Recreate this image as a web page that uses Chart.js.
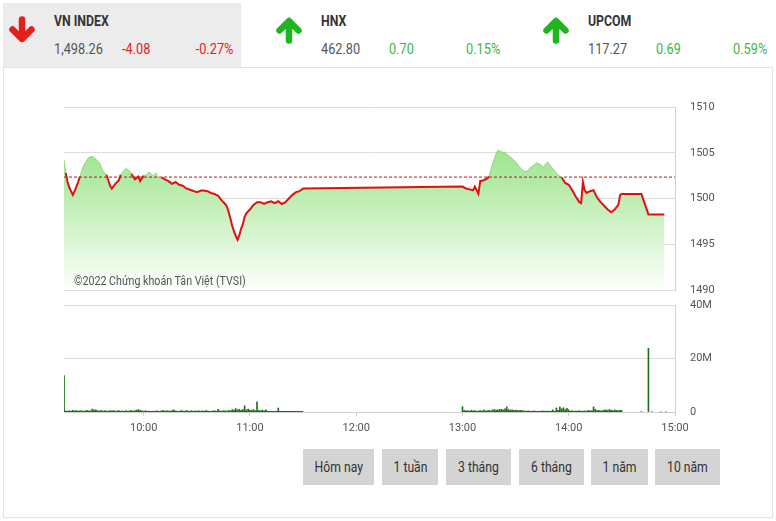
<!DOCTYPE html>
<html>
<head>
<meta charset="utf-8">
<script src="https://cdn.jsdelivr.net/npm/chart.js@4.4.1/dist/chart.umd.min.js"></script>
<style>
    html, body { margin: 0; padding: 0; background: #fff; }
    body { width: 776px; height: 521px; position: relative; overflow: hidden;
        font-family: Roboto, sans-serif; color: #444; }
    .abs { position: absolute; white-space: nowrap; }
    .tab-active { background: #ececec; }
    .panel { border: 1px solid #e3e3e3; box-sizing: border-box; }
    .name { font-size: 15px; font-weight: bold; color: #333; line-height: 18px; transform: scaleX(0.82); transform-origin: left; }
    .val { font-size: 15px; line-height: 18px; color: #555; transform: scaleX(0.85); transform-origin: left; }
    .val.right { transform-origin: right; }
    .down { color: #e3201c; }
    .up { color: #3cb83c; }
    .btn { background: #d4d4d4; color: #333; height: 36px; line-height: 36px; text-align: center; }
    .btn span { display: inline-block; font-size: 14px; transform: scaleX(0.87); }
    .watermark { font-size: 12px; color: #555; transform: scaleX(0.89); transform-origin: left; }
    canvas { position: absolute; left: 0; }
</style>
</head>
<body>
<div class="abs panel" style="left:3px;top:67px;width:770px;height:451px"></div>
<div class="abs tab-active" style="left:3px;top:3px;width:238px;height:64px"></div>

<div id="header"></div>

<canvas id="price-canvas" width="776" height="203" style="top:97px"></canvas>
<canvas id="volume-canvas" width="776" height="145" style="top:295px"></canvas>
<div class="abs watermark" style="left:74px;top:274px">©2022 Chứng khoán Tân Việt (TVSI)</div>

<div id="buttons"></div>

<script>
// index summary in header
const indexNames = ["VN INDEX", "HNX", "UPCOM"];
const indexValues = ["1,498.26", "462.80", "117.27"];
const indexChanges = ["-4.08", "0.70", "0.69"];
const indexPercents = ["-0.27%", "0.15%", "0.59%"];

const rangeButtons = ["Hôm nay", "1 tuần", "3 tháng", "6 tháng", "1 năm", "10 năm"];

// reference (previous close) for VN INDEX
const REF_PRICE = 1502.34;

// intraday VN INDEX
const priceTimes = [
    "9:15", "9:16", "9:17", "9:18", "9:20", "9:21", "9:23", "9:24", "9:26", "9:28",
    "9:29", "9:31", "9:33", "9:35", "9:37", "9:39", "9:40", "9:41", "9:42", "9:44",
    "9:46", "9:47", "9:49", "9:50", "9:52", "9:53", "9:55", "9:57", "9:58", "10:00",
    "10:02", "10:03", "10:05", "10:07", "10:08", "10:10", "10:12", "10:14", "10:16", "10:18",
    "10:20", "10:22", "10:24", "10:27", "10:30", "10:33", "10:36", "10:38", "10:40", "10:42",
    "10:44", "10:46", "10:47", "10:48", "10:49", "10:50", "10:51", "10:52", "10:53", "10:54",
    "10:55", "10:56", "10:57", "10:58", "11:00", "11:02", "11:04", "11:06", "11:08", "11:10",
    "11:12", "11:14", "11:16", "11:18", "11:20", "11:22", "11:24", "11:26", "11:28", "11:30",
    "13:00", "13:02", "13:04", "13:06", "13:07", "13:08", "13:09", "13:10", "13:12", "13:14",
    "13:15", "13:17", "13:19", "13:20", "13:22", "13:24", "13:26", "13:28", "13:30", "13:32",
    "13:34", "13:36", "13:38", "13:40", "13:42", "13:44", "13:46", "13:47", "13:48", "13:50",
    "13:52", "13:54", "13:56", "13:58", "14:00", "14:02", "14:04", "14:06", "14:07", "14:08",
    "14:09", "14:10", "14:12", "14:14", "14:16", "14:18", "14:20", "14:22", "14:24", "14:26",
    "14:28", "14:29", "14:30", "14:41", "14:45", "14:54"
];
const priceValues = [
    1504.2, 1502.8, 1501.8, 1501.2, 1500.4, 1500.8, 1501.8, 1502.4, 1503.6, 1504.2,
    1504.5, 1504.6, 1504.3, 1503.9, 1503.0, 1502.6, 1502.0, 1501.4, 1501.1, 1501.6,
    1502.0, 1502.6, 1503.1, 1503.3, 1503.0, 1502.7, 1502.1, 1502.4, 1501.9, 1502.5,
    1502.6, 1502.9, 1502.5, 1502.8, 1502.3, 1502.3, 1502.1, 1501.9, 1501.6, 1501.8,
    1501.5, 1501.4, 1501.1, 1500.9, 1500.7, 1500.9, 1500.8, 1500.6, 1500.5, 1500.3,
    1499.8, 1499.4, 1499.1, 1498.5, 1497.8, 1497.0, 1496.4, 1495.9, 1495.5, 1496.0,
    1496.7, 1497.2, 1498.0, 1498.4, 1498.8, 1499.3, 1499.6, 1499.6, 1499.4, 1499.6,
    1499.7, 1499.5, 1499.7, 1499.4, 1499.6, 1500.0, 1500.4, 1500.7, 1500.8, 1501.1,
    1501.3, 1501.1, 1501.0, 1500.9, 1501.3, 1500.9, 1500.5, 1501.9, 1502.0, 1502.2,
    1502.4, 1503.8, 1504.9, 1505.3, 1505.1, 1505.0, 1504.7, 1504.4, 1504.0, 1503.5,
    1503.1, 1502.9, 1503.3, 1503.6, 1503.9, 1503.7, 1503.4, 1503.8, 1504.0, 1503.5,
    1503.0, 1502.6, 1502.3, 1501.7, 1501.5, 1500.9, 1500.2, 1499.6, 1499.5, 1501.8,
    1500.9, 1500.6, 1500.8, 1500.9, 1500.1, 1499.6, 1499.2, 1498.8, 1498.5, 1498.8,
    1499.3, 1500.4, 1500.5, 1500.5, 1498.26, 1498.26
];

// matched volume per minute (millions), morning from 9:15, afternoon from 13:00
const volumeMorning = [
    13.6, 0.4, 0.3, 0.5, 0.3, 0.6, 0.4, 0.5, 0.3, 0.4,
    0.5, 0.3, 0.4, 0.6, 0.4, 0.5, 1.1, 0.7, 0.8, 0.5,
    0.4, 0.6, 0.3, 0.5, 0.4, 0.3, 0.5, 0.4, 0.6, 0.3,
    0.4, 0.5, 0.3, 0.4, 0.2, 0.5, 0.3, 0.4, 0.6, 0.3,
    0.5, 0.7, 0.9, 0.6, 0.4, 0.3, 0.5, 0.2, 0.3, 0,
    0.3, 0, 0.4, 0.3, 0, 0.4, 0.6, 0.3, 0.5, 0.4,
    0.3, 0.5, 0.8, 0.4, 0.3, 0, 0.5, 0.4, 0.3, 0.5,
    0.4, 0.3, 0.5, 0, 0.4, 0.3, 0.5, 0, 0.4, 0.3,
    0.5, 0.4, 0.3, 0, 0.4, 0.5, 0.3, 1.0, 0.4, 0.3,
    0.5, 0.4, 0.3, 0.6, 0.5, 0.9, 0.7, 1.3, 0.8, 1.0,
    0.6, 0.9, 2.3, 0.8, 1.1, 0.7, 0.6, 0.9, 0.5, 3.8,
    0.6, 0.5, 0.7, 0.4, 0.8, 0.3, 0, 0, 0, 0,
    0, 1.5, 0, 0, 0, 0, 0, 0, 0, 0,
    0, 0, 0, 0, 0, 0
];
const volumeAfternoon = [
    2.0, 0.6, 0.4, 0.5, 0.3, 0.6, 0.4, 0.5, 0, 0.4,
    0.5, 0.3, 0.8, 0.4, 0.5, 0.6, 0.4, 0.8, 0.9, 0.7,
    0.8, 0.9, 1.0, 0.8, 1.2, 1.9, 0.9, 0.7, 0.8, 0.6,
    0.7, 0.6, 0.5, 0.6, 0.5, 0.4, 0, 0.4, 0.3, 0,
    0.4, 0.3, 0, 0.3, 0, 0.4, 0.3, 0, 0.4, 0,
    0.3, 0.8, 0, 1.5, 0.6, 1.8, 1.2, 1.6, 0.9, 1.4,
    0.8, 0.3, 0.5, 0, 0.4, 0.3, 0.5, 0, 0.3, 0.4,
    0.3, 0.6, 0.4, 0.5, 1.9, 1.0, 0.5, 0.6, 0.4, 0.5,
    0.7, 0.8, 0.6, 0.9, 0.7, 0.5, 0.8, 0.6, 0.5, 0.7,
    0.5
];
const closingTimes = ["14:41", "14:45", "14:47", "14:52", "14:55"];
const closingVolumes = [0.2, 23.8, 0.2, 0.2, 0.2];

const xTickTimes = ["10:00", "11:00", "12:00", "13:00", "14:00", "15:00"];
const priceTicks = [1490, 1495, 1500, 1505, 1510];
const volumeTicks = [0, 20, 40];

const FONT = "Roboto, sans-serif";
const PLOT_LEFT = 64;
const PLOT_RIGHT = 675;
const DAY_START = toMinutes("9:15");
const DAY_END = toMinutes("15:00");

// minutes counted from 9:00
function toMinutes(t) {
    const [h, m] = t.split(":").map(Number);
    return (h - 9) * 60 + m;
}

function toLabel(minutes) {
    const h = Math.floor(minutes / 60) + 9;
    const m = minutes % 60;
    return h + ":" + String(m).padStart(2, "0");
}

function buildHeader() {
    const header = document.getElementById("header");
    indexNames.forEach((name, i) => {
        const left = 3 + i * 267;
        const isDown = indexChanges[i].startsWith("-");
        const cls = isDown ? "down" : "up";
        const color = isDown ? "#e3201c" : "#1fb51f";
        const arrow = isDown
            ? '<path d="M13 3 V22 M3.5 13 L13 22.5 L22.5 13" />'
            : '<path d="M13 24 V5 M3.5 14 L13 4.5 L22.5 14" />';
        header.insertAdjacentHTML("beforeend", `
            <svg class="abs" style="left:${left + 6}px;top:16px" width="26" height="28" viewBox="0 0 26 27">
                <g fill="none" stroke="${color}" stroke-width="6.5" stroke-linecap="round" stroke-linejoin="round">${arrow}</g>
            </svg>
            <div class="abs name" style="left:${left + 51}px;top:12px">${name}</div>
            <div class="abs val" style="left:${left + 51}px;top:40px">${indexValues[i]}</div>
            <div class="abs val ${cls}" style="left:${left + 119}px;top:40px">${indexChanges[i]}</div>
            <div class="abs val right ${cls}" style="right:${776 - (left + 230)}px;top:40px">${indexPercents[i]}</div>
        `);
    });
}

function buildButtons() {
    // left edge and width of each range button
    const lefts = [303, 382, 446, 519, 591, 655];
    const widths = [71, 56, 65, 65, 57, 65];
    const box = document.getElementById("buttons");
    rangeButtons.forEach((label, i) => {
        box.insertAdjacentHTML("beforeend",
            `<div class="abs btn" style="left:${lefts[i]}px;top:449px;width:${widths[i]}px"><span>${label}</span></div>`);
    });
}

// fixed axis width, and no extra label padding above/below the plot
function rightAxisFit(scale) {
    scale.width = 776 - PLOT_RIGHT;
    scale.paddingTop = 0;
    scale.paddingBottom = 0;
}

function setupPriceChart() {
    const ctx = document.getElementById("price-canvas").getContext("2d");
    const points = priceTimes.map((t, i) => ({x: toMinutes(t), y: priceValues[i]}));

    return new Chart(ctx, {
        type: "line",
        data: {
            datasets: [
                {
                    // green area under the index
                    data: points,
                    borderWidth: 0,
                    borderColor: "rgba(0,0,0,0)",
                    pointRadius: 0,
                    fill: "start",
                    order: 2,
                    backgroundColor: (c) => {
                        const area = c.chart.chartArea;
                        if (!area) return "rgba(150,225,130,0.6)";
                        const g = c.chart.ctx.createLinearGradient(0, area.top, 0, area.bottom);
                        g.addColorStop(0, "rgb(128,220,108)");
                        g.addColorStop(0.55, "rgb(196,239,186)");
                        g.addColorStop(1, "rgb(253,255,252)");
                        return g;
                    },
                },
                {
                    // previous close line
                    data: [{x: DAY_START, y: REF_PRICE}, {x: DAY_END, y: REF_PRICE}],
                    borderColor: "#a8201a",
                    borderWidth: 1,
                    borderDash: [3, 2],
                    pointRadius: 0,
                    fill: false,
                    order: 1,
                },
                {
                    // index line: red below reference, green above
                    data: points,
                    borderWidth: 2,
                    pointRadius: 0,
                    fill: false,
                    order: 0,
                    borderColor: "#e01010",
                    segment: {
                        borderColor: (c) =>
                            (c.p0.parsed.y < REF_PRICE - 0.05 || c.p1.parsed.y < REF_PRICE - 0.05)
                                ? "#e01010" : "rgba(120,212,100,0.8)",
                        borderWidth: (c) =>
                            (c.p0.parsed.y < REF_PRICE - 0.05 || c.p1.parsed.y < REF_PRICE - 0.05) ? 2 : 1,
                    },
                },
            ],
        },
        options: {
            responsive: false,
            animation: false,
            layout: {padding: {left: PLOT_LEFT, top: 10, bottom: 10, right: 0}},
            plugins: {legend: {display: false}, tooltip: {enabled: false}},
            scales: {
                x: {type: "linear", min: DAY_START, max: DAY_END, display: false},
                y: {
                    position: "right",
                    min: priceTicks[0],
                    max: priceTicks[priceTicks.length - 1],
                    afterFit: rightAxisFit,
                    afterBuildTicks: (s) => { s.ticks = priceTicks.map((v) => ({value: v})); },
                    grid: {color: "#dcdcdc", drawTicks: false},
                    border: {display: true, color: "#d0d0d0"},
                    ticks: {
                        padding: 15,
                        color: "#555",
                        font: {family: FONT, size: 11},
                        callback: (v) => String(v),
                    },
                },
            },
        },
    });
}

function setupVolumeChart() {
    const ctx = document.getElementById("volume-canvas").getContext("2d");
    const amStart = toMinutes("9:15");
    const pmStart = toMinutes("13:00");
    const bars = [
        ...volumeMorning.map((v, i) => ({x: amStart + i, y: v})),
        ...volumeAfternoon.map((v, i) => ({x: pmStart + i, y: v})),
        ...closingTimes.map((t, i) => ({x: toMinutes(t), y: closingVolumes[i]})),
    ];
    // baseline under continuous trading sessions
    const baseline = [
        {x: amStart, y: 0}, {x: amStart + volumeMorning.length - 1, y: 0},
        {x: (amStart + pmStart) / 2, y: null},
        {x: pmStart, y: 0}, {x: pmStart + volumeAfternoon.length - 1, y: 0},
    ];

    return new Chart(ctx, {
        type: "bar",
        data: {
            datasets: [
                {
                    data: bars,
                    backgroundColor: "#1d6e1d",
                    barThickness: 1,
                    order: 1,
                },
                {
                    type: "line",
                    data: baseline,
                    borderColor: "#1d6e1d",
                    borderWidth: 2,
                    pointRadius: 0,
                    spanGaps: false,
                    order: 0,
                },
            ],
        },
        options: {
            responsive: false,
            animation: false,
            layout: {padding: {left: PLOT_LEFT, top: 10, bottom: 0, right: 0}},
            plugins: {legend: {display: false}, tooltip: {enabled: false}},
            scales: {
                x: {
                    type: "linear",
                    offset: false,
                    min: DAY_START,
                    max: DAY_END,
                    afterFit: (s) => { s.height = 28; },
                    afterBuildTicks: (s) => { s.ticks = xTickTimes.map((t) => ({value: toMinutes(t)})); },
                    grid: {drawOnChartArea: false, drawTicks: true, tickLength: 4, color: "#cfcfcf", offset: false},
                    border: {display: true, color: "#cfcfcf"},
                    ticks: {
                        padding: 6,
                        color: "#555",
                        font: {family: FONT, size: 11},
                        maxRotation: 0,
                        callback: (v) => toLabel(v),
                    },
                },
                y: {
                    position: "right",
                    min: volumeTicks[0],
                    max: volumeTicks[volumeTicks.length - 1],
                    afterFit: rightAxisFit,
                    afterBuildTicks: (s) => { s.ticks = volumeTicks.map((v) => ({value: v})); },
                    grid: {color: "#dcdcdc", drawTicks: false},
                    border: {display: true, color: "#d0d0d0"},
                    ticks: {
                        padding: 15,
                        color: "#555",
                        font: {family: FONT, size: 11},
                        callback: (v) => (v === 0 ? "0" : v + "M"),
                    },
                },
            },
        },
    });
}

buildHeader();
buildButtons();
setupPriceChart();
setupVolumeChart();
</script>
</body>
</html>
